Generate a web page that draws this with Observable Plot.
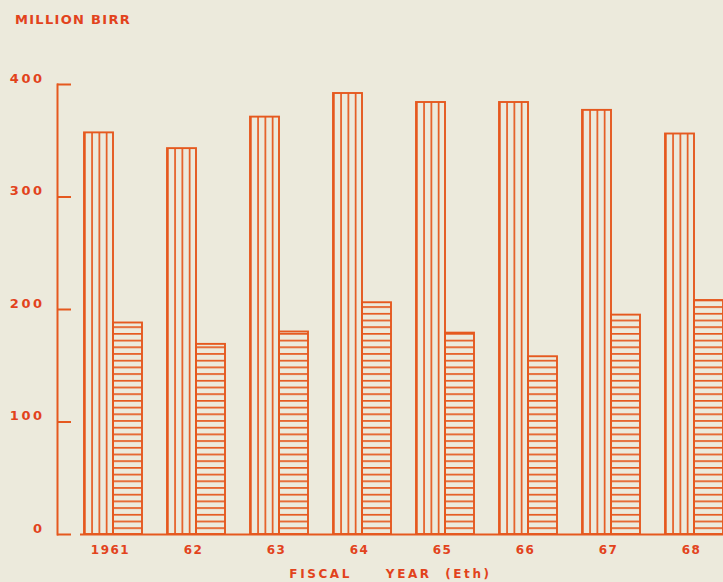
<!DOCTYPE html>
<html><head><meta charset="utf-8">
<script src="https://cdn.jsdelivr.net/npm/d3@7"></script>
<script src="https://cdn.jsdelivr.net/npm/@observablehq/plot@0.6"></script>
<style>
html,body{margin:0;padding:0;background:#ECEADC;width:723px;height:582px;overflow:hidden;}
#title{height:40px;box-sizing:border-box;padding:12px 0 0 15px;font:bold 13px "DejaVu Sans";letter-spacing:1.3px;color:#E2431C;line-height:16px;}
#chart svg{display:block;overflow:hidden;}
</style></head><body>
<div id="title">MILLION BIRR</div>
<div id="chart"></div>
<script>
const years = ["1961","62","63","64","65","66","67","68"];
const seriesA = [357,343,371,392,384,384,377,356];
const seriesB = [188,169,180,206,179,158,195,208];
const yTicks = [0,100,200,300,400];
const rows = years.map((y,i)=>({year:y, a:seriesA[i], b:seriesB[i]}));
const LINE="#E5591F", TEXT="#E2431C";
const W=723,H=542, ML=57, MT=44, MB=48;
const chart = Plot.plot({
  width:W, height:H, marginLeft:ML, marginRight:0, marginTop:MT, marginBottom:MB,
  style:{background:"transparent", color:TEXT, fontFamily:"DejaVu Sans", fontWeight:"bold", fontSize:"12px"},
  x:{type:"band", domain:years, range:[84,726], paddingInner:0.305, paddingOuter:0, align:0},
  y:{domain:[0,400]},
  marks:[
    Plot.barY(rows,{x:"year", y:"a", fill:"url(#vhatch)", stroke:LINE, strokeWidth:1.9, insetRight:29}),
    Plot.barY(rows,{x:"year", y:"b", fill:"url(#hhatch)", stroke:LINE, strokeWidth:1.9, insetLeft:29}),
    Plot.frame({anchor:"left", stroke:LINE, strokeWidth:2}),
    Plot.ruleY([0],{stroke:LINE, strokeWidth:2, insetLeft:23}),
    Plot.tickY(yTicks,{y:d=>d, stroke:LINE, strokeWidth:2, insetRight:W-ML-14}),
    Plot.axisY({ticks:yTicks, tickSize:0, tickPadding:13, dy:-6, label:null, fill:TEXT, fontSize:13}),
    Plot.axisX({tickSize:0, tickPadding:11, dx:-3, fill:TEXT,
      label:"FISCAL\u00a0\u00a0\u00a0\u00a0\u00a0YEAR\u00a0\u00a0(Eth)", labelAnchor:"center", labelArrow:"none", labelOffset:43})
  ]
});
document.getElementById("chart").appendChild(chart);
const svg = d3.select(chart);
svg.selectAll("text").attr("letter-spacing","1.5px");
svg.selectAll("[aria-label='y-axis tick label'] text").attr("letter-spacing","2.5px").attr("font-size","13px");
svg.selectAll("[aria-label='x-axis label'] text").attr("letter-spacing","2.6px").attr("font-size","12px");
const defs = svg.insert("defs",":first-child");
const v = defs.append("pattern").attr("id","vhatch").attr("patternUnits","objectBoundingBox").attr("width",0.25).attr("height",1);
v.append("line").attr("x1",0).attr("x2",0).attr("y1",0).attr("y2",2000).attr("stroke",LINE).attr("stroke-width",3.4);
const h = defs.append("pattern").attr("id","hhatch").attr("patternUnits","userSpaceOnUse").attr("x",0).attr("y",H-MB).attr("width",20).attr("height",6.7);
h.append("line").attr("x1",0).attr("x2",20).attr("y1",0).attr("y2",0).attr("stroke",LINE).attr("stroke-width",3.4);
</script>
</body></html>
